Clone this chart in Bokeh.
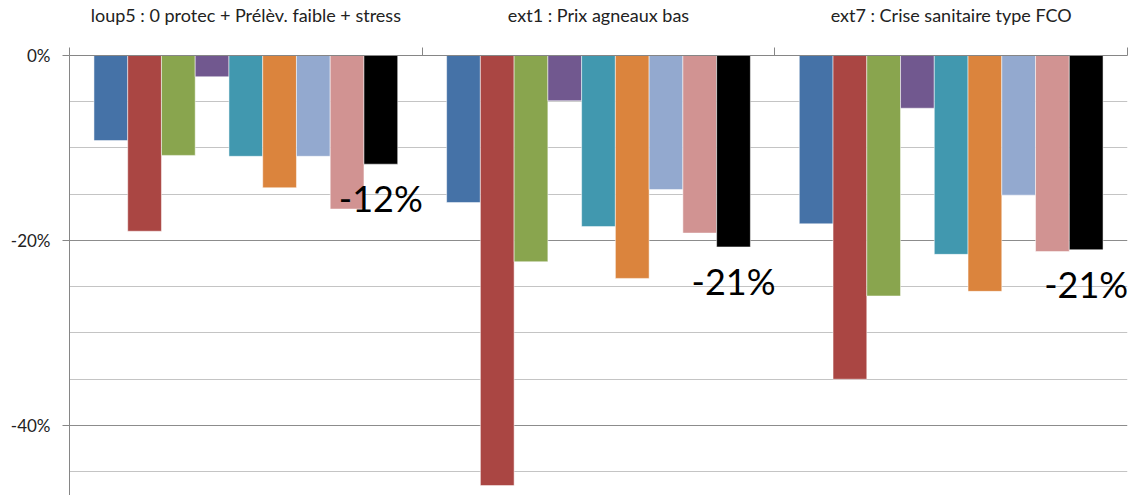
from bokeh.plotting import figure
from bokeh.models import Range1d, FixedTicker, ColumnDataSource
from bokeh.embed import file_html
from bokeh.resources import INLINE
from bokeh.core.properties import value

# ---- data ----
groups = ["loup5 : 0 protec + Prélèv. faible + stress",
          "ext1 : Prix agneaux bas",
          "ext7 : Crise sanitaire type FCO"]
series = ["S1", "S2", "S3", "S4", "S5", "S6", "S7", "S8", "Total"]
colors = ["#4572A7", "#AA4643", "#89A54E", "#71588F", "#4198AF",
          "#DB843D", "#93A9CF", "#D19392", "#000000"]
values_loup5 = [-0.092, -0.190, -0.108, -0.023, -0.109, -0.143, -0.109, -0.166, -0.1175]
values_ext1 = [-0.159, -0.465, -0.223, -0.049, -0.185, -0.241, -0.145, -0.192, -0.207]
values_ext7 = [-0.182, -0.350, -0.260, -0.057, -0.215, -0.255, -0.151, -0.212, -0.210]
label_texts = ["-12%", "-21%", "-21%"]
y_ticks = [0, -0.2, -0.4]
y_tick_labels = ["0%", "-20%", "-40%"]
y_minor = [-0.05, -0.10, -0.15, -0.25, -0.30, -0.35, -0.45]

FONT = "Lato"
bw = 0.0957  # bar width in group units

p = figure(width=1131, height=495, x_range=Range1d(0, 3), y_range=Range1d(-0.4757, 0),
           x_axis_location="above", output_backend="svg", toolbar_location=None,
           min_border_left=69, min_border_top=55, min_border_right=4, min_border_bottom=0)
p.outline_line_color = None
p.background_fill_color = "white"

# bars
all_vals = [values_loup5, values_ext1, values_ext7]
xs, bottoms, cols = [], [], []
for gi, vals in enumerate(all_vals):
    for j, v in enumerate(vals):
        xs.append(gi + 0.5 + (j - 4) * bw)
        bottoms.append(v)
        cols.append(colors[j])
src = ColumnDataSource(dict(x=xs, bottom=bottoms, color=cols))
p.vbar(x="x", width=bw, top=0, bottom="bottom", fill_color="color",
       line_color="white", line_alpha=0.5, line_width=1, source=src)

# data labels on the last series
lab = ColumnDataSource(dict(x=[gi + 0.5 + 4 * bw for gi in range(3)],
                            y=[v[-1] for v in all_vals], text=label_texts))
p.text(x="x", y="y", text="text", source=lab, text_align="center", text_baseline="middle",
       y_offset=34, text_font=value(FONT), text_font_size="36px", text_color="black")

# x axis (top) with group titles
xa = p.xaxis[0]
xa.ticker = FixedTicker(ticks=[0.5, 1.5, 2.5], minor_ticks=[0, 1, 2, 3])
xa.major_label_overrides = {0.5: groups[0], 1.5: groups[1], 2.5: groups[2]}
xa.major_tick_line_color = None
xa.major_tick_out = 0
xa.minor_tick_out = 8
xa.minor_tick_in = 0
xa.minor_tick_line_color = "#868686"
xa.axis_line_color = "#868686"
xa.major_label_standoff = 22
xa.major_label_text_font = FONT
xa.major_label_text_font_size = "18px"
xa.major_label_text_color = "#222222"

# y axis
ya = p.yaxis[0]
ya.ticker = FixedTicker(ticks=y_ticks, minor_ticks=y_minor)
ya.major_label_overrides = {t: l for t, l in zip(y_ticks, y_tick_labels)}
ya.major_tick_out = 7
ya.major_tick_in = 0
ya.minor_tick_line_color = None
ya.major_tick_line_color = "#868686"
ya.axis_line_color = "#868686"
ya.major_label_standoff = 12
ya.major_label_text_font = FONT
ya.major_label_text_font_size = "17px"
ya.major_label_text_color = "#222222"

p.xgrid.grid_line_color = None
p.ygrid.grid_line_color = "#8c8c8c"
p.ygrid.minor_grid_line_color = "#c4c4c4"
p.ygrid.level = "underlay"

open("out.html", "w").write(file_html(p, INLINE))
